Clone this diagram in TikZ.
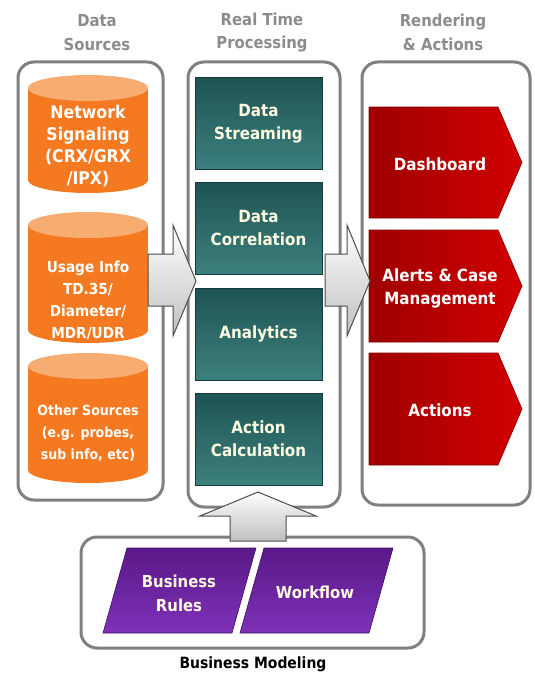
\documentclass[tikz,border=0pt]{standalone}
\usepackage{fontspec}
\setmainfont[FakeStretch=0.9]{DejaVu Sans}
\definecolor{hdrgray}{HTML}{8C8C8C}
\definecolor{framegray}{HTML}{808080}
\definecolor{cylbody}{HTML}{F47920}
\definecolor{cyltop}{HTML}{F7AD72}
\definecolor{tealtop}{HTML}{1E5453}
\definecolor{tealbot}{HTML}{3C807E}
\definecolor{tealtext}{HTML}{FFFBE0}
\definecolor{redleft}{HTML}{9E0000}
\definecolor{redright}{HTML}{D20000}
\definecolor{purtop}{HTML}{5A1888}
\definecolor{purbot}{HTML}{7E32B8}
\begin{document}
\begin{tikzpicture}[x=1pt,y=-1pt,
  hdr/.style={font=\bfseries\fontsize{16.5}{23.5}\selectfont, text=hdrgray, align=center},
  frame/.style={draw=framegray, line width=3pt, rounded corners=16pt},
  cyltext/.style={font=\bfseries\fontsize{#1}{22}\selectfont, text=white, align=center},
  tealbox/.style={rectangle, minimum width=127pt, minimum height=92pt, inner sep=0pt,
     top color=tealtop, bottom color=tealbot, draw=tealtop!70!black, line width=0.6pt,
     font=\bfseries\fontsize{16.8}{23}\selectfont, text=tealtext, align=center},
  redarrow/.style={left color=redleft, right color=redright, draw=redleft!80!black, line width=0.6pt},
  redtext/.style={font=\bfseries\fontsize{16.8}{23}\selectfont, text=white, align=center},
  purshape/.style={top color=purtop, bottom color=purbot, draw=purtop!70!black, line width=0.6pt},
  purtext/.style={font=\bfseries\fontsize{16.5}{24}\selectfont, text=tealtext, align=center},
  bigarrow/.style={top color=white, bottom color=gray!50, draw=gray!60!black, line width=1pt}
]
\useasboundingbox (0,0) rectangle (535,677);

% headers
\node[hdr] (hA) at (97,32.5) {Data\\Sources};
\node[hdr] (hB) at (262,32.5) {Real Time\\Processing};
\node[hdr] (hC) at (443,32.5) {Rendering\\\& Actions};

% frames
\draw[frame] (18,62) rectangle (163,500);
\draw[frame] (188,62) rectangle (340,507);
\draw[frame] (362,62) rectangle (530,505);
\draw[frame] (81,537) rectangle (424,648);

% cylinders
\fill[cylbody] (28,88) rectangle (148,180);
\fill[cylbody] (88,180) ellipse [x radius=60pt, y radius=13pt];
\fill[cyltop] (88,88) ellipse [x radius=60pt, y radius=13pt];
\fill[cylbody] (28,225) rectangle (148,330);
\fill[cylbody] (88,330) ellipse [x radius=60pt, y radius=13pt];
\fill[cyltop] (88,225) ellipse [x radius=60pt, y radius=13pt];
\fill[cylbody] (28,366) rectangle (148,470);
\fill[cylbody] (88,470) ellipse [x radius=60pt, y radius=13pt];
\fill[cyltop] (88,366) ellipse [x radius=60pt, y radius=13pt];
\node[cyltext=17.5] (cA) at (88,146) {Network\\Signaling\\(CRX/GRX\\/IPX)};
\node[cyltext=15.2] (cB) at (88,300.5) {Usage Info\\TD.35/\\Diameter/\\MDR/UDR};
\node[cyltext=14] (cC) at (88,433) {Other Sources\\(e.g. probes,\\sub info, etc)};

% teal boxes
\node[tealbox] (t1) at (258.5,123.5) {Data\\Streaming};
\node[tealbox] (t2) at (258.5,228) {Data\\Correlation};
\node[tealbox] (t3) at (258.5,334) {Analytics};
\node[tealbox] (t4) at (258.5,439) {Action\\Calculation};

% red arrows
\draw[redarrow] (369,107) -- (498,107) -- (522,162.5) -- (498,218) -- (369,218) -- cycle;
\draw[redarrow] (369,230) -- (498,230) -- (522,286) -- (498,342) -- (369,342) -- cycle;
\draw[redarrow] (369,353) -- (498,353) -- (522,409) -- (498,465) -- (369,465) -- cycle;
\node[redtext] (r1) at (440,164) {Dashboard};
\node[redtext] (r2) at (440,288.5) {Alerts \& Case\\Management};
\node[redtext] (r3) at (440,410) {Actions};

% big arrows
\draw[bigarrow] (148,254) -- (173,254) -- (173,225) -- (196,281) -- (173,336) -- (173,306) -- (148,306) -- cycle;
\draw[bigarrow] (325,254) -- (347,254) -- (347,225) -- (370,281) -- (347,336) -- (347,306) -- (325,306) -- cycle;
\draw[bigarrow] (230,541) -- (230,516) -- (200,516) -- (258,492) -- (316,516) -- (286,516) -- (286,541) -- cycle;

% business modeling
\draw[purshape] (127,548) -- (256,548) -- (232,633) -- (103,633) -- cycle;
\draw[purshape] (264,548) -- (393,548) -- (369,633) -- (240,633) -- cycle;
\node[purtext] (p1) at (179,593) {Business\\Rules};
\node[purtext] (p2) at (315,592) {Workflow};
\node[font=\bfseries\fontsize{15.5}{17}\selectfont] (bm) at (253,664) {Business Modeling};
\end{tikzpicture}
\end{document}
